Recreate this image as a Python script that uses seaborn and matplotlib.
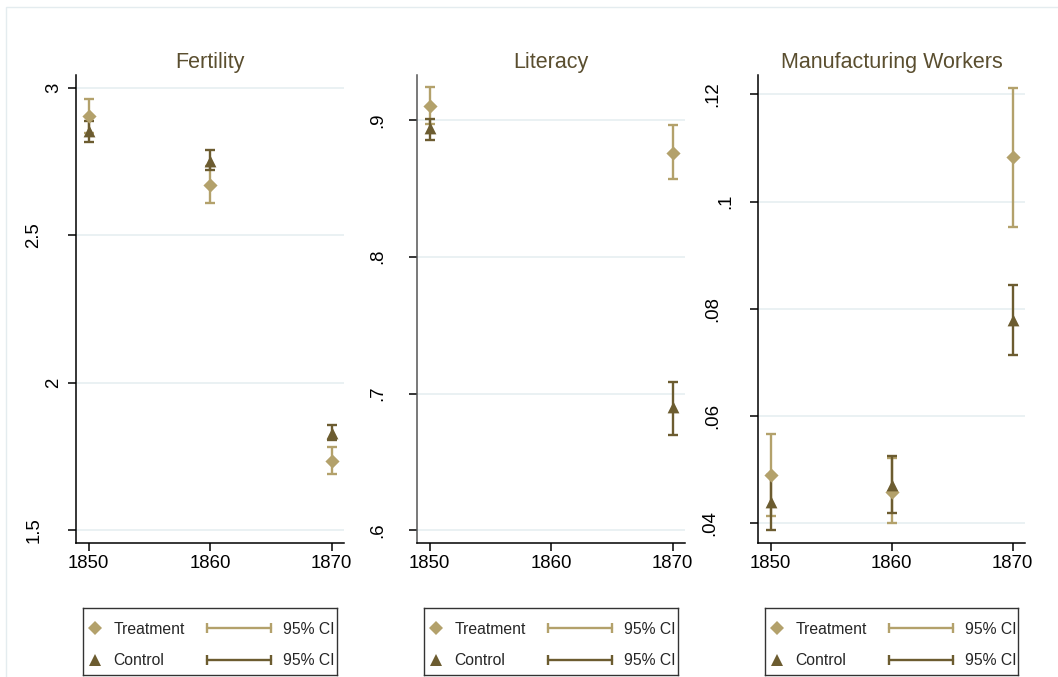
import numpy as np
import pandas as pd
import matplotlib
matplotlib.use("Agg")
import matplotlib.pyplot as plt
import matplotlib.transforms as mtransforms
from matplotlib.lines import Line2D
from matplotlib.legend_handler import HandlerLine2D
from matplotlib.patches import Rectangle
import seaborn as sns

# ---- data -------------------------------------------------------------
years = [1850, 1860, 1870]
year_labels = ["1850", "1860", "1870"]
groups = ["Treatment", "Control"]
ci_label = "95% CI"

panel_titles = ["Fertility", "Literacy", "Manufacturing Workers"]

fert_treat = [2.904, 2.671, 1.733]
fert_treat_lo = [2.847, 2.608, 1.690]
fert_treat_hi = [2.961, 2.734, 1.782]
fert_ctrl = [2.854, 2.753, 1.829]
fert_ctrl_lo = [2.817, 2.721, 1.806]
fert_ctrl_hi = [2.888, 2.787, 1.857]

lit_treat = [0.9105, np.nan, 0.876]
lit_treat_lo = [0.897, np.nan, 0.8566]
lit_treat_hi = [0.924, np.nan, 0.8963]
lit_ctrl = [0.894, np.nan, 0.690]
lit_ctrl_lo = [0.8854, np.nan, 0.6698]
lit_ctrl_hi = [0.901, np.nan, 0.7083]

mfg_treat = [0.0490, 0.0459, 0.1083]
mfg_treat_lo = [0.0414, 0.0400, 0.0953]
mfg_treat_hi = [0.0567, 0.0521, 0.1212]
mfg_ctrl = [0.0440, 0.0471, 0.0780]
mfg_ctrl_lo = [0.0388, 0.0419, 0.0714]
mfg_ctrl_hi = [0.0490, 0.0526, 0.0844]

fert_ticks = [1.5, 2, 2.5, 3]
fert_tick_labels = ["1.5", "2", "2.5", "3"]
lit_ticks = [0.6, 0.7, 0.8, 0.9]
lit_tick_labels = [".6", ".7", ".8", ".9"]
mfg_ticks = [0.04, 0.06, 0.08, 0.10, 0.12]
mfg_tick_labels = [".04", ".06", ".08", ".1", ".12"]

# ---- style ------------------------------------------------------------
sns.set_theme(style="ticks")
plt.rcParams["font.family"] = ["Liberation Sans", "DejaVu Sans"]

treat_col = "#B3A16B"
ctrl_col = "#6C5C30"
title_col = "#5A4E2F"
grid_col = "#E6EFF1"

W, H = 1058, 677
DPI = 100
fig = plt.figure(figsize=(W / DPI, H / DPI), dpi=DPI)
fig.patch.set_facecolor("white")

# faint outer frame of the graph region
fig.add_artist(Rectangle((6 / W, -0.2), 1.2, 1.2 - 7 / H,
                         transform=fig.transFigure, fill=False,
                         edgecolor="#E4ECEF", lw=1.0))

# distance (px) from the y axis line to the centre of each rotated y label
fert_label_gap = [42, 22, 42, 22]
lit_label_gap = [40, 40, 40, 40]
mfg_label_gap = [49, 46, 46, 32.5, 46]

panels = [
    dict(title=panel_titles[0], left=76, width=268, ylim=(1.457, 3.043),
         ticks=fert_ticks, labels=fert_tick_labels, gaps=fert_label_gap,
         t=(fert_treat, fert_treat_lo, fert_treat_hi),
         c=(fert_ctrl, fert_ctrl_lo, fert_ctrl_hi), spine="black"),
    dict(title=panel_titles[1], left=417.3, width=267.7, ylim=(0.5909, 0.9329),
         ticks=lit_ticks, labels=lit_tick_labels, gaps=lit_label_gap,
         t=(lit_treat, lit_treat_lo, lit_treat_hi),
         c=(lit_ctrl, lit_ctrl_lo, lit_ctrl_hi), spine="#555555"),
    dict(title=panel_titles[2], left=758.3, width=266.7, ylim=(0.0364, 0.1236),
         ticks=mfg_ticks, labels=mfg_tick_labels, gaps=mfg_label_gap,
         t=(mfg_treat, mfg_treat_lo, mfg_treat_hi),
         c=(mfg_ctrl, mfg_ctrl_lo, mfg_ctrl_hi), spine="black"),
]

top_px, bottom_px = 75, 542.7
styles = {
    "Treatment": dict(color=treat_col, marker="D", s=52),
    "Control": dict(color=ctrl_col, marker="^", s=72),
}

for p in panels:
    ax = fig.add_axes([p["left"] / W, 1 - bottom_px / H,
                       p["width"] / W, (bottom_px - top_px) / H])
    ax.set_facecolor("white")
    for grp, (mean, lo, hi) in zip(groups, (p["t"], p["c"])):
        df = pd.DataFrame({"year": years, "value": mean, "lo": lo, "hi": hi})
        st = styles[grp]
        ax.errorbar(df["year"], df["value"],
                    yerr=[df["value"] - df["lo"], df["hi"] - df["value"]],
                    fmt="none", ecolor=st["color"], elinewidth=1.7,
                    capsize=3.3, capthick=1.7, zorder=3)
        sns.scatterplot(data=df.dropna(), x="year", y="value",
                        color=st["color"], marker=st["marker"], s=st["s"],
                        linewidth=0, ax=ax, legend=False, zorder=4)

    ax.set_xlim(1848.97, 1871.02)
    ax.set_ylim(*p["ylim"])
    ax.set_xticks(years, year_labels)
    ax.set_yticks(p["ticks"], p["labels"])
    ax.set_xlabel("")
    ax.set_ylabel("")
    ax.yaxis.grid(True, color=grid_col, lw=1.2)
    ax.xaxis.grid(False)
    ax.set_axisbelow(True)
    sns.despine(ax=ax)
    ax.spines["left"].set_color(p["spine"])
    ax.spines["bottom"].set_color("black")
    for s in ("left", "bottom"):
        ax.spines[s].set_linewidth(1.1)
    ax.tick_params(axis="both", direction="out", length=5.5, width=1.1,
                   color="black", labelsize=13.4, labelcolor="black")
    ax.tick_params(axis="x", pad=3.3)
    ax.tick_params(axis="y", labelrotation=90)
    ax.set_title(p["title"], fontsize=15.5, color=title_col, pad=4.8)

    # rotated y labels, each centred at its own distance from the axis line
    for tick, gap in zip(ax.yaxis.get_major_ticks(), p["gaps"]):
        lbl = tick.label1
        lbl.set_transform(ax.get_yaxis_transform() +
                          mtransforms.ScaledTranslation(-gap / DPI, 0,
                                                        fig.dpi_scale_trans))
        lbl.set_ha("center")
        lbl.set_va("center")
        lbl.set_rotation_mode("anchor")

    # legend box under each panel
    box_w = p["width"] - 14
    lax = fig.add_axes([(p["left"] + 7) / W, 1 - 675 / H, box_w / W, 67.3 / H])
    lax.set_xticks([])
    lax.set_yticks([])
    lax.set_facecolor("white")
    for s in lax.spines.values():
        s.set_color("#333333")
        s.set_linewidth(1.0)

    mk_handles = [
        Line2D([], [], ls="none", marker="D", ms=7.2, mew=0, color=treat_col),
        Line2D([], [], ls="none", marker="^", ms=8.5, mew=0, color=ctrl_col),
    ]
    leg1 = lax.legend(mk_handles, groups, loc="center left",
                      bbox_to_anchor=(4.15 / box_w, 0.448), frameon=False,
                      handlelength=1.0, handletextpad=0.665, labelspacing=1.06,
                      borderpad=0, borderaxespad=0, fontsize=11.3, numpoints=1)
    lax.add_artist(leg1)

    ci_handles = [
        Line2D([], [], color=treat_col, lw=1.7, marker="|", ms=6.5, mew=1.7),
        Line2D([], [], color=ctrl_col, lw=1.7, marker="|", ms=6.5, mew=1.7),
    ]
    lax.legend(ci_handles, [ci_label, ci_label], loc="center left",
               bbox_to_anchor=(123.7 / box_w, 0.448), frameon=False,
               handlelength=4.08, handletextpad=0.76, labelspacing=1.06,
               borderpad=0, borderaxespad=0, fontsize=11.3,
               handler_map={Line2D: HandlerLine2D(numpoints=2, marker_pad=0)})

fig.savefig("out.png", dpi=DPI, facecolor="white")
